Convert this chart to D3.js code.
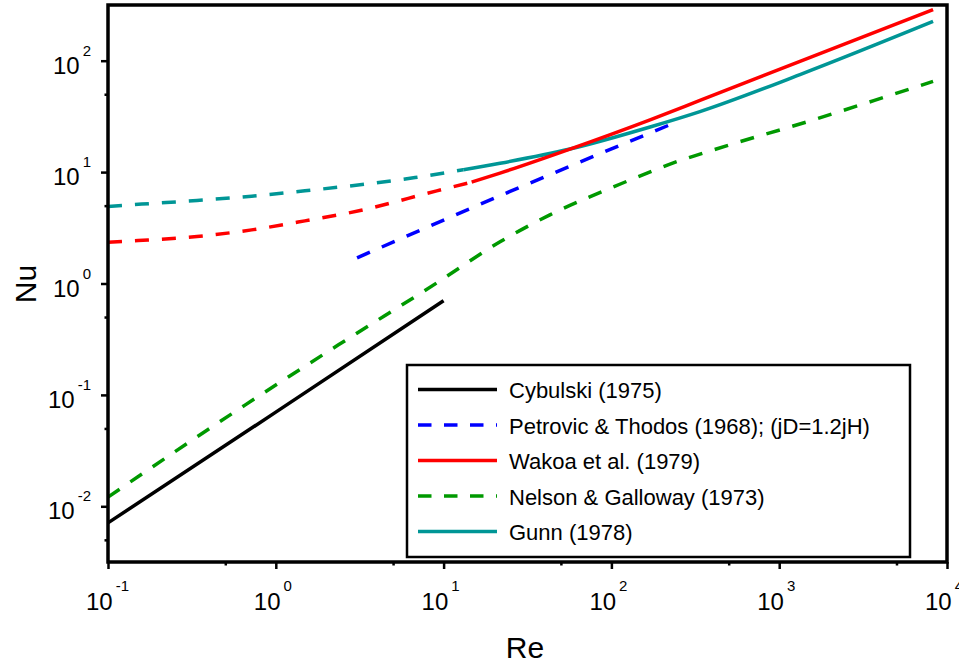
<!DOCTYPE html>
<html>
<head>
<meta charset="utf-8">
<script src="https://cdn.jsdelivr.net/npm/d3@7"></script>
<style>
body{margin:0;background:#fff;}
svg{display:block;font-family:'Liberation Sans',Arial,sans-serif;}
</style>
</head>
<body>
<script>
// axis ticks
var xTickValues=[0.1,1,10,100,1000,10000];
var xTickExponents=['-1','0','1','2','3','4'];
var xMinorTicks=[0.5,5,50,500,5000];
var yTickValues=[0.01,0.1,1,10,100];
var yTickExponents=['-2','-1','0','1','2'];
var yMinorTicks=[0.005,0.05,0.5,5,50];

// Cybulski (1975)
var cybulskiRe=[0.1,1,10];
var cybulskiNu=[0.0071,0.070,0.70];

// Petrovic & Thodos (1968)
var petrovicRe=[3.05,24.9,223];
var petrovicNu=[1.70,6.7,26.6];

// Wakao et al. (1979) - dashed part then solid part
var wakaoDashRe=[0.1,0.151,0.339,0.718,1.49,3.18,9.1,14.7];
var wakaoDashNu=[2.35,2.43,2.64,3.03,3.65,4.52,6.79,8.13];
var wakaoSolidRe=[14.7,21.7,56.6,170,337,1330,8260];
var wakaoSolidNu=[8.13,9.8,16.1,29.5,44,98.6,287];

// Nelson & Galloway (1973)
var nelsonRe=[0.1,0.655,2.35,9.27,21.7,43,115,166,234,337,509,1490,4375,8260];
var nelsonNu=[0.0121,0.081,0.28,1.03,2.37,4.13,7.9,9.9,12.1,14.5,17.6,28.5,47.8,65.2];

// Gunn (1978) - dashed part then solid part
var gunnDashRe=[0.1,0.159,0.339,0.718,1.49,4.92,6.76,13.1];
var gunnDashNu=[4.91,5.16,5.56,6.08,6.79,8.36,8.93,10.5];
var gunnSolidRe=[13.1,21.7,56.6,170,337,1330,8260];
var gunnSolidNu=[10.5,12.0,16.1,25.4,34.9,75,225];

var legendNames=['Cybulski (1975)','Petrovic & Thodos (1968); (jD=1.2jH)','Wakoa et al. (1979)','Nelson & Galloway (1973)','Gunn (1978)'];
var legendColors=['#000000','#0000ff','#ff0000','#009900','#009696'];
var legendDashed=[false,true,false,true,false];

function pairs(re,nu){
    return re.map(function(r,i){return [r,nu[i]];});
}

var segments=[
    {pts:pairs(cybulskiRe,cybulskiNu),color:legendColors[0],dash:false},
    {pts:pairs(nelsonRe,nelsonNu),color:legendColors[3],dash:true},
    {pts:pairs(gunnDashRe,gunnDashNu),color:legendColors[4],dash:true},
    {pts:pairs(wakaoDashRe,wakaoDashNu),color:legendColors[2],dash:true},
    {pts:pairs(petrovicRe,petrovicNu),color:legendColors[1],dash:true},
    {pts:pairs(gunnSolidRe,gunnSolidNu),color:legendColors[4],dash:false},
    {pts:pairs(wakaoSolidRe,wakaoSolidNu),color:legendColors[2],dash:false}
];

var width=959,height=666;
var plotLeft=108,plotRight=947,plotTop=5,plotBottom=562;

var svg=d3.select('body').append('svg')
    .attr('width',width)
    .attr('height',height);

var xScale=d3.scaleLog()
    .domain([0.1,10000])
    .range([plotLeft,plotRight]);

var yScale=d3.scaleLog()
    .domain([Math.pow(10,-2.5),Math.pow(10,2.5)])
    .range([plotBottom,plotTop]);

// major / minor ticks
function tickAxis(axis,values,size){
    return axis.tickValues(values)
        .tickFormat('')
        .tickSizeInner(size)
        .tickSizeOuter(0);
}

svg.append('g')
    .attr('transform','translate(0,'+plotBottom+')')
    .call(tickAxis(d3.axisBottom(xScale),xTickValues,7));
svg.append('g')
    .attr('transform','translate(0,'+plotBottom+')')
    .call(tickAxis(d3.axisBottom(xScale),xMinorTicks,3.5));
svg.append('g')
    .attr('transform','translate('+plotLeft+',0)')
    .call(tickAxis(d3.axisLeft(yScale),yTickValues,7));
svg.append('g')
    .attr('transform','translate('+plotLeft+',0)')
    .call(tickAxis(d3.axisLeft(yScale),yMinorTicks,3.5));

svg.selectAll('.domain').remove();
svg.selectAll('.tick line')
    .attr('stroke','#000')
    .attr('stroke-width',2.5);

// tick labels 10^n
var xLabels=svg.append('g').selectAll('text')
    .data(xTickValues)
    .enter()
    .append('text')
    .attr('x',function(d){return xScale(d)-22;})
    .attr('y',610)
    .style('font-size','24px')
    .text('10');
xLabels.append('tspan')
    .attr('dx',3)
    .attr('dy',-19)
    .style('font-size','15px')
    .text(function(d,i){return xTickExponents[i];});

var yLabels=svg.append('g').selectAll('text')
    .data(yTickValues)
    .enter()
    .append('text')
    .attr('x',91)
    .attr('y',function(d){return yScale(d)+13;})
    .attr('text-anchor','end')
    .style('font-size','24px')
    .text('10');
yLabels.append('tspan')
    .attr('dx',3)
    .attr('dy',-18)
    .style('font-size','15px')
    .text(function(d,i){return yTickExponents[i];});

// curves
var line=d3.line()
    .x(function(d){return xScale(d[0]);})
    .y(function(d){return yScale(d[1]);})
    .curve(d3.curveMonotoneX);

svg.append('g').selectAll('path')
    .data(segments)
    .enter()
    .append('path')
    .attr('d',function(d){return line(d.pts);})
    .attr('fill','none')
    .attr('stroke',function(d){return d.color;})
    .attr('stroke-width',3.5)
    .attr('stroke-dasharray',function(d){return d.dash?'14,13':null;});

// frame
svg.append('rect')
    .attr('x',plotLeft)
    .attr('y',plotTop)
    .attr('width',plotRight-plotLeft)
    .attr('height',plotBottom-plotTop)
    .attr('fill','none')
    .attr('stroke','#000')
    .attr('stroke-width',3.5);

// legend
var legend=svg.append('g').attr('id','legend');
legend.append('rect')
    .attr('x',407)
    .attr('y',365)
    .attr('width',503)
    .attr('height',192)
    .attr('fill','#fff')
    .attr('stroke','#000')
    .attr('stroke-width',2.5);

var rows=legend.selectAll('g.row')
    .data(legendNames)
    .enter()
    .append('g')
    .attr('class','row')
    .attr('transform',function(d,i){return 'translate(0,'+(398+i*35.5)+')';});

rows.append('line')
    .attr('x1',418)
    .attr('x2',497)
    .attr('y1',-8.5)
    .attr('y2',-8.5)
    .attr('stroke',function(d,i){return legendColors[i];})
    .attr('stroke-width',3.5)
    .attr('stroke-dasharray',function(d,i){return legendDashed[i]?'13.5,12.5':null;});

rows.append('text')
    .attr('x',509)
    .attr('y',0)
    .style('font-size','22px')
    .text(function(d){return d;});

// axis titles
svg.append('text')
    .attr('x',525)
    .attr('y',658)
    .attr('text-anchor','middle')
    .style('font-size','30px')
    .text('Re');

svg.append('text')
    .attr('transform','translate(36,284) rotate(-90)')
    .attr('text-anchor','middle')
    .style('font-size','30px')
    .text('Nu');
</script>
</body>
</html>
